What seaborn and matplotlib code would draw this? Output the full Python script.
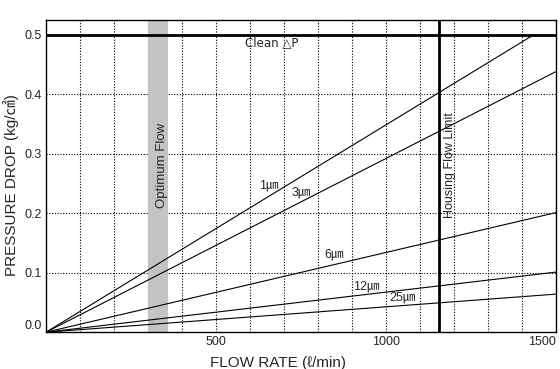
import numpy as np
import pandas as pd
import matplotlib
matplotlib.use("Agg")
import matplotlib.pyplot as plt
import seaborn as sns

# filter grades and their pressure drop at the end of each line
grades = ["1㎛", "3㎛", "6㎛", "12㎛", "25㎛"]
flow_end = [1435, 1500, 1500, 1500, 1500]
dp_end = [0.50, 0.438, 0.201, 0.101, 0.064]
# where the grade label sits (flow, pressure)
label_flow = [655, 752, 846, 943, 1049]
label_dp = [0.246, 0.234, 0.130, 0.076, 0.058]

clean_dp = 0.5
optimum_flow = [300, 358]
housing_limit = 1155

rows = []
for g, fe, de in zip(grades, flow_end, dp_end):
    rows.append({"grade": g, "flow": 0, "dp": 0.0})
    rows.append({"grade": g, "flow": fe, "dp": de})
df = pd.DataFrame(rows)

sns.set_style("white")
fam = ["Liberation Sans", "Noto Sans CJK KR", "DejaVu Sans"]
plt.rcParams["font.family"] = fam

fig = plt.figure(figsize=(5.6, 3.69), dpi=100)
ax = fig.add_axes([46 / 560, 1 - 332.2 / 369, 510 / 560, (332.2 - 19.5) / 369])

ax.set_xlim(0, 1500)
ax.set_ylim(0, 0.5255)

# dotted grid
for xv in np.arange(100, 1500, 100):
    ax.axvline(xv, color="black", lw=0.8, ls=(0, (1, 1.5)), zorder=1)
for yv in np.arange(0.1, 0.5, 0.1):
    ax.axhline(yv, color="black", lw=0.8, ls=(0, (1, 1.5)), zorder=1)

ax.axvspan(optimum_flow[0], optimum_flow[1], color="#c3c3c3", lw=0, zorder=2)
ax.axhline(clean_dp, color="black", lw=2.0, zorder=4)
ax.axvline(housing_limit, color="black", lw=2.0, zorder=4)

sns.lineplot(data=df, x="flow", y="dp", units="grade", estimator=None,
             color="black", lw=0.8, ax=ax, zorder=5)

for g, lx, ly in zip(grades, label_flow, label_dp):
    ax.text(lx, ly, g, ha="center", va="center", fontsize=9, family=fam, zorder=6)

ax.text(665, 0.486, "Clean △P", ha="center", va="center", fontsize=8.5,
        family=["DejaVu Sans"], zorder=6)
ax.text(340, 0.281, "Optimum Flow", rotation=90,
        ha="center", va="center", fontsize=9.5, zorder=6)
ax.text(1188, 0.281, "Housing Flow Limit", rotation=90,
        ha="center", va="center", fontsize=9, zorder=6)

xt = np.arange(100, 1600, 100)
ax.set_xticks(xt)
ax.set_xticklabels([str(v) if v % 500 == 0 else "" for v in xt], fontsize=9)
ax.xaxis.get_ticklabels()[-1].set_ha("right")
ax.set_yticks([0.0, 0.1, 0.2, 0.3, 0.4, 0.5])
ax.set_yticklabels(["0.0", "0.1", "0.2", "0.3", "0.4", "0.5"], fontsize=9)
ax.yaxis.get_ticklabels()[0].set_va("bottom")
ax.tick_params(length=0, pad=3)

ax.set_xlabel("FLOW RATE (ℓ/min)", fontsize=11, family=fam)
ax.set_ylabel("PRESSURE DROP (kg/㎠)", fontsize=11, family=fam)
ax.xaxis.set_label_coords(0.455, -0.075)
ax.yaxis.set_label_coords(-0.052, 0.47)

for s in ax.spines.values():
    s.set_color("black")
    s.set_linewidth(1.0)
    s.set_visible(True)

fig.savefig("out.png", dpi=100)
